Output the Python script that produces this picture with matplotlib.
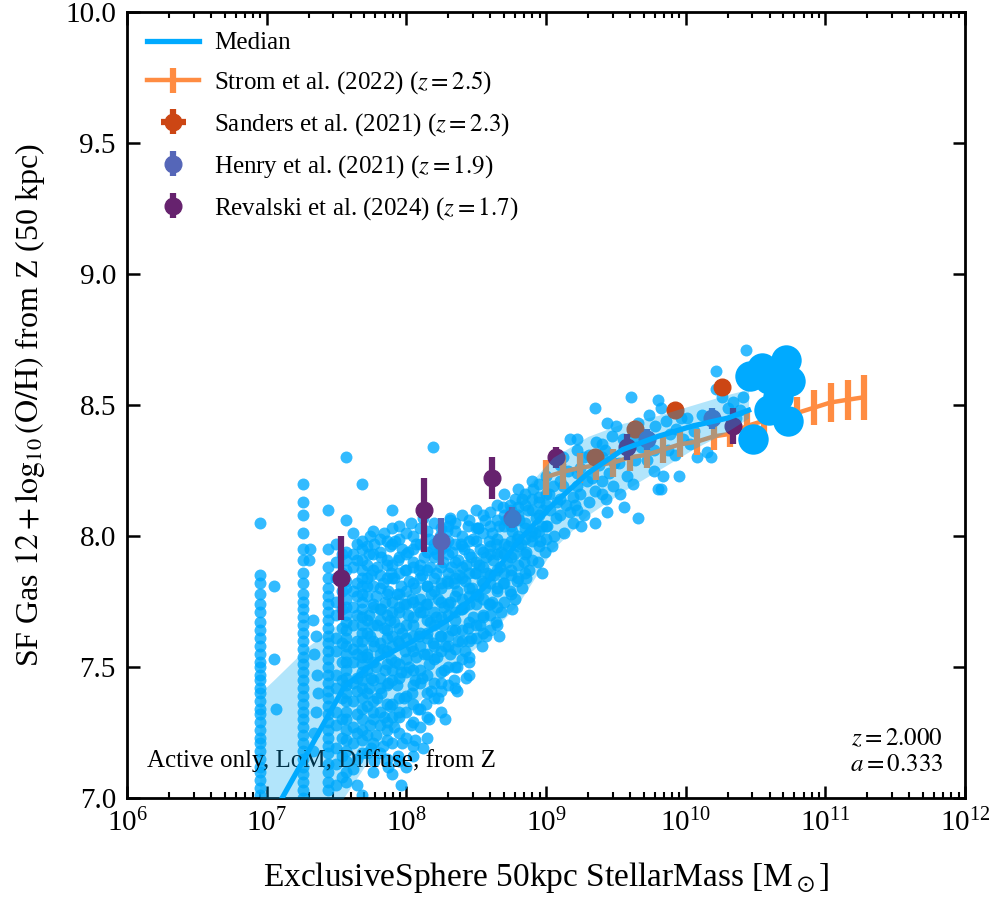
import numpy as np
import matplotlib
matplotlib.use('Agg')
import matplotlib.pyplot as plt
from matplotlib.ticker import LogLocator, NullFormatter, MultipleLocator


# --- simulated galaxies: low-mass columns (log10 M*, then Z values) ---
COLUMN_LOGM = [6.95, 7.26, 7.44, 7.57, 7.68]
COLUMN_Z = [
    [8.05, 7.85, 7.82, 7.78, 7.74, 7.71, 7.67, 7.64, 7.61, 7.58, 7.55, 7.52, 7.50, 7.47, 7.45, 7.42,
     7.40, 7.37, 7.34, 7.32, 7.29, 7.26, 7.23, 7.21, 7.18, 7.15, 7.12, 7.10, 7.07, 7.04, 7.01],
    [8.20, 8.13, 8.08, 8.01, 7.95, 7.91, 7.86, 7.82, 7.78, 7.75, 7.72, 7.69, 7.66, 7.63, 7.60, 7.57,
     7.54, 7.51, 7.48, 7.45, 7.42, 7.39, 7.36, 7.33, 7.30, 7.27, 7.24, 7.21, 7.18, 7.15, 7.12, 7.09,
     7.06, 7.03, 7.00],
    [8.10, 7.95, 7.88, 7.84, 7.80, 7.77, 7.74, 7.71, 7.68, 7.65, 7.62, 7.59, 7.56, 7.53, 7.50, 7.47,
     7.44, 7.41, 7.38, 7.35, 7.32, 7.29, 7.26, 7.23, 7.20, 7.17, 7.13, 7.10, 7.06, 7.03],
    [8.30, 8.06, 7.94, 7.91, 7.87, 7.83, 7.80, 7.76, 7.73, 7.70, 7.67, 7.64, 7.61, 7.58, 7.55, 7.52,
     7.49, 7.46, 7.43, 7.40, 7.37, 7.33, 7.30, 7.26, 7.22, 7.18, 7.14, 7.10, 7.06],
    [8.20, 7.98, 7.95, 7.91, 7.87, 7.84, 7.81, 7.78, 7.75, 7.72, 7.69, 7.66, 7.63, 7.60, 7.57, 7.54,
     7.51, 7.48, 7.45, 7.42, 7.38, 7.34, 7.30, 7.26, 7.22, 7.17, 7.01],
]

# extra strips filling the dense part of the cloud (log10 M*, Z values)
FILL_STRIPS = [
    (7.50, [7.97, 7.90, 7.84, 7.75, 7.70, 7.61, 7.56, 7.47, 7.42, 7.33, 7.28, 7.19, 7.13, 7.05]),
    (7.54, [7.93, 7.86, 7.79, 7.72, 7.65, 7.59, 7.52, 7.45, 7.38, 7.30, 7.23, 7.16, 7.08]),
    (7.62, [8.01, 7.93, 7.88, 7.79, 7.73, 7.66, 7.57, 7.52, 7.44, 7.37, 7.27, 7.21, 7.11]),
    (7.65, [7.97, 7.91, 7.82, 7.77, 7.70, 7.60, 7.55, 7.46, 7.41, 7.32, 7.25, 7.15, 7.05]),
    (7.72, [7.96, 7.89, 7.84, 7.77, 7.68, 7.63, 7.54, 7.49, 7.40, 7.35, 7.24, 7.17]),
    (7.76, [8.02, 7.93, 7.87, 7.81, 7.74, 7.66, 7.60, 7.52, 7.45, 7.37, 7.30, 7.21, 7.10]),
    (7.81, [7.99, 7.94, 7.85, 7.80, 7.72, 7.68, 7.59, 7.55, 7.46, 7.42, 7.33, 7.28, 7.17]),
    (7.86, [7.98, 7.91, 7.84, 7.78, 7.70, 7.64, 7.56, 7.51, 7.43, 7.36, 7.29, 7.22, 7.15]),
    (7.90, [8.03, 7.97, 7.89, 7.84, 7.75, 7.71, 7.62, 7.58, 7.49, 7.45, 7.36, 7.31, 7.21, 7.09]),
    (7.95, [8.04, 7.99, 7.92, 7.86, 7.78, 7.73, 7.65, 7.59, 7.51, 7.46, 7.38, 7.31, 7.25, 7.14]),
    (8.00, [8.01, 7.93, 7.87, 7.79, 7.74, 7.66, 7.61, 7.53, 7.48, 7.39, 7.33, 7.23, 7.12]),
    (8.05, [8.00, 7.95, 7.88, 7.82, 7.75, 7.69, 7.62, 7.56, 7.49, 7.43, 7.36, 7.29, 7.20]),
    (8.10, [8.03, 7.97, 7.89, 7.84, 7.76, 7.71, 7.63, 7.58, 7.49, 7.44, 7.34, 7.27]),
    (8.15, [8.02, 7.94, 7.87, 7.81, 7.74, 7.68, 7.61, 7.55, 7.47, 7.40, 7.31, 7.23]),
    (8.20, [8.05, 7.97, 7.92, 7.84, 7.79, 7.71, 7.66, 7.58, 7.53, 7.44, 7.38]),
    (8.25, [8.03, 7.95, 7.88, 7.82, 7.75, 7.69, 7.62, 7.56, 7.48, 7.41, 7.33]),
    (8.30, [8.04, 7.98, 7.93, 7.86, 7.82, 7.74, 7.70, 7.62, 7.58, 7.50, 7.43]),
    (8.35, [8.05, 7.97, 7.90, 7.84, 7.77, 7.71, 7.64, 7.57, 7.50, 7.42]),
    (8.40, [8.08, 8.00, 7.96, 7.88, 7.84, 7.76, 7.72, 7.64, 7.60, 7.53]),
    (8.45, [8.06, 7.98, 7.93, 7.86, 7.80, 7.74, 7.67, 7.60, 7.54, 7.47]),
    (8.50, [8.10, 8.03, 7.98, 7.90, 7.86, 7.78, 7.74, 7.66, 7.61]),
    (8.55, [8.08, 8.01, 7.94, 7.88, 7.82, 7.76, 7.69, 7.63]),
    (8.60, [8.09, 8.04, 7.96, 7.93, 7.85, 7.82, 7.74, 7.70, 7.64]),
    (8.65, [8.12, 8.06, 7.99, 7.93, 7.87, 7.80, 7.73, 7.66]),
    (8.70, [8.16, 8.08, 8.04, 7.97, 7.93, 7.86, 7.82, 7.75]),
    (8.75, [8.10, 8.04, 7.98, 7.92, 7.85, 7.78]),
    (8.80, [8.18, 8.11, 8.08, 8.00, 7.96, 7.89, 7.84]),
    (8.85, [8.16, 8.12, 8.05, 7.99, 7.93, 7.86]),
    (8.90, [8.21, 8.14, 8.10, 8.02, 7.98, 7.91]),
    (8.95, [8.20, 8.15, 8.08, 8.02, 7.96]),
    (9.00, [8.23, 8.16, 8.12, 8.04, 7.99]),
    (9.10, [8.27, 8.21, 8.14, 8.08]),
    (9.22, [8.33, 8.24, 8.19, 8.10]),
    (9.40, [8.35, 8.30, 8.21, 8.16]),
]

# --- simulated galaxies: scattered part of the cloud (log10 M*, Z) ---
CLOUD = [
    (7.05, 7.81), (7.05, 7.53), (7.07, 7.34), (7.31, 7.95), (7.30, 7.91),
    (7.33, 7.68), (7.35, 7.62), (7.34, 7.55), (7.36, 7.47), (7.37, 7.40), (7.35, 7.33), (7.34, 7.25), (7.33, 7.18),
    (7.90, 8.10), (8.31, 8.06), (8.29, 8.02), (8.51, 8.03),
    (7.74, 8.00), (7.77, 7.97), (7.73, 7.93), (7.79, 7.88), (7.75, 7.85), (7.72, 7.81), (7.78, 7.77), (7.76, 7.73),
    (7.73, 7.70), (7.79, 7.66), (7.74, 7.62), (7.77, 7.58), (7.72, 7.55), (7.78, 7.50), (7.75, 7.46), (7.73, 7.42),
    (7.79, 7.38), (7.76, 7.33), (7.74, 7.28), (7.78, 7.24), (7.75, 7.19), (7.77, 7.14),
    (7.84, 8.01), (7.88, 7.96), (7.82, 7.92), (7.86, 7.89), (7.89, 7.86), (7.83, 7.82), (7.87, 7.79), (7.85, 7.75),
    (7.82, 7.72), (7.88, 7.68), (7.84, 7.65), (7.86, 7.61), (7.83, 7.57), (7.89, 7.53), (7.85, 7.49), (7.87, 7.44),
    (7.82, 7.40), (7.88, 7.35), (7.84, 7.31), (7.86, 7.26), (7.83, 7.20), (7.87, 7.12),
    (7.92, 7.98), (7.97, 7.95), (7.94, 7.91), (7.99, 7.87), (7.91, 7.84), (7.96, 7.81), (7.93, 7.78), (7.98, 7.74),
    (7.95, 7.71), (7.91, 7.67), (7.97, 7.63), (7.94, 7.60), (7.99, 7.56), (7.92, 7.52), (7.96, 7.48), (7.93, 7.43),
    (7.98, 7.38), (7.95, 7.33), (7.91, 7.27), (7.97, 7.21), (7.94, 7.16), (7.96, 7.05),
    (8.03, 8.05), (8.07, 7.97), (8.01, 7.94), (8.05, 7.90), (8.09, 7.87), (8.02, 7.83), (8.06, 7.80), (8.04, 7.76),
    (8.08, 7.73), (8.01, 7.70), (8.05, 7.66), (8.09, 7.62), (8.03, 7.58), (8.07, 7.54), (8.02, 7.50), (8.06, 7.45),
    (8.04, 7.40), (8.08, 7.34), (8.03, 7.28), (8.06, 7.22), (8.05, 7.16),
    (8.12, 8.07), (8.16, 7.99), (8.19, 7.95), (8.13, 7.92), (8.17, 7.88), (8.11, 7.85), (8.15, 7.81), (8.18, 7.78),
    (8.14, 7.74), (8.12, 7.71), (8.17, 7.67), (8.15, 7.63), (8.19, 7.59), (8.13, 7.55), (8.16, 7.51), (8.11, 7.46),
    (8.18, 7.41), (8.14, 7.36), (8.16, 7.30), (8.12, 7.19),
    (8.19, 8.34), (8.24, 8.00), (8.28, 7.96), (8.22, 7.93), (8.26, 7.90), (8.21, 7.86), (8.29, 7.83), (8.25, 7.80),
    (8.23, 7.76), (8.27, 7.73), (8.21, 7.69), (8.26, 7.66), (8.24, 7.62), (8.28, 7.58), (8.22, 7.54), (8.27, 7.49),
    (8.25, 7.44), (8.23, 7.38), (8.28, 7.30),
    (8.31, 8.07), (8.35, 8.02), (8.39, 7.97), (8.33, 7.94), (8.37, 7.91), (8.32, 7.88), (8.38, 7.85), (8.34, 7.82),
    (8.36, 7.79), (8.31, 7.75), (8.39, 7.72), (8.35, 7.68), (8.33, 7.64), (8.37, 7.60), (8.31, 7.55), (8.36, 7.50),
    (8.34, 7.45), (8.36, 7.41),
    (8.44, 8.04), (8.48, 7.99), (8.41, 7.95), (8.46, 7.92), (8.43, 7.89), (8.49, 7.86), (8.42, 7.83), (8.47, 7.80),
    (8.45, 7.77), (8.41, 7.73), (8.48, 7.69), (8.44, 7.65), (8.46, 7.61), (8.42, 7.56), (8.45, 7.52), (8.43, 7.46),
    (8.51, 8.03), (8.56, 8.06), (8.59, 7.98), (8.53, 7.95), (8.57, 7.92), (8.52, 7.89), (8.58, 7.86), (8.54, 7.83),
    (8.56, 7.80), (8.51, 7.77), (8.59, 7.74), (8.55, 7.70), (8.53, 7.66), (8.57, 7.62), (8.54, 7.58),
    (8.69, 8.11), (8.66, 8.04), (8.61, 8.01), (8.64, 7.97), (8.68, 7.94), (8.62, 7.91), (8.67, 7.88), (8.63, 7.85),
    (8.69, 7.82), (8.65, 7.79), (8.61, 7.75), (8.68, 7.71), (8.64, 7.67), (8.66, 7.62),
    (8.78, 8.14), (8.74, 8.12), (8.71, 8.06), (8.76, 8.02), (8.79, 7.99), (8.73, 7.96), (8.77, 7.93), (8.72, 7.90),
    (8.75, 7.87), (8.79, 7.83), (8.74, 7.79), (8.78, 7.76), (8.76, 7.72),
    (8.83, 8.14), (8.87, 8.10), (8.81, 8.06), (8.85, 8.03), (8.89, 8.00), (8.82, 7.97), (8.86, 7.94), (8.84, 7.90),
    (8.88, 7.87), (8.86, 7.84), (8.83, 7.80),
    (8.91, 8.18), (8.95, 8.13), (8.98, 8.10), (8.93, 8.07), (8.97, 8.04), (8.92, 8.01), (8.96, 7.98), (8.99, 7.94),
    (8.94, 7.90), (8.97, 7.86),
    (9.05, 8.19), (9.02, 8.16), (9.08, 8.13), (9.03, 8.10), (9.07, 8.07), (9.01, 8.04), (9.06, 8.00), (9.04, 7.96),
    (9.17, 8.37), (9.12, 8.30), (9.16, 8.25), (9.12, 8.19), (9.19, 8.15), (9.14, 8.12), (9.17, 8.09), (9.19, 8.05),
    (9.13, 8.01),
    (9.22, 8.37), (9.27, 8.30), (9.24, 8.26), (9.29, 8.21), (9.24, 8.16), (9.21, 8.12), (9.27, 8.08), (9.25, 8.04),
    (9.35, 8.49), (9.36, 8.36), (9.31, 8.31), (9.38, 8.27), (9.33, 8.22), (9.31, 8.13), (9.35, 8.17), (9.35, 8.05),
    (9.44, 8.43), (9.47, 8.38), (9.42, 8.33), (9.49, 8.28), (9.45, 8.24), (9.48, 8.19), (9.44, 8.09), (9.43, 8.14),
    (9.50, 8.42), (9.55, 8.37), (9.58, 8.33), (9.52, 8.28), (9.58, 8.23), (9.53, 8.16), (9.56, 8.11),
    (9.61, 8.53), (9.66, 8.43), (9.63, 8.38), (9.68, 8.34), (9.64, 8.29), (9.62, 8.20), (9.66, 8.07),
    (9.74, 8.46), (9.78, 8.42), (9.72, 8.38), (9.77, 8.33), (9.72, 8.29), (9.77, 8.25), (9.80, 8.18),
    (9.80, 8.52), (9.82, 8.49), (9.86, 8.44), (9.89, 8.39), (9.87, 8.33), (9.84, 8.23), (9.82, 8.18),
    (9.97, 8.45), (9.93, 8.41), (9.98, 8.37), (9.92, 8.31), (9.95, 8.23),
    (10.01, 8.45), (10.06, 8.40), (10.03, 8.35), (10.08, 8.30),
    (10.12, 8.46), (10.19, 8.44), (10.15, 8.32), (10.18, 8.30),
    (10.22, 8.63), (10.22, 8.56), (10.26, 8.53), (10.30, 8.49),
    (10.34, 8.51), (10.39, 8.48), (10.36, 8.45),
    (10.43, 8.71), (10.41, 8.53),
]

# --- most massive galaxies (drawn larger) ---
BIG_LOGM = [10.46, 10.55, 10.72, 10.75, 10.60, 10.60, 10.73, 10.48, 10.66]
BIG_Z = [8.61, 8.64, 8.67, 8.59, 8.60, 8.48, 8.44, 8.37, 8.53]

# --- median and 16-84 percentile band ---
MED_LOGM = [7.10, 7.30, 7.55, 7.80, 8.05, 8.30, 8.55, 8.80, 9.05, 9.30, 9.55, 9.80, 10.05, 10.30, 10.45]
MED_Z = [6.99, 7.18, 7.42, 7.53, 7.60, 7.68, 7.80, 7.98, 8.12, 8.24, 8.33, 8.38, 8.42, 8.45, 8.48]
BAND_LOGM = [6.95, 7.05, 7.30, 7.55, 7.80, 8.05, 8.30, 8.55, 8.80, 9.05, 9.30, 9.55, 9.80, 10.05, 10.30, 10.45]
BAND_LO = [6.60, 6.70, 6.85, 7.00, 7.20, 7.35, 7.48, 7.60, 7.74, 7.95, 8.08, 8.17, 8.25, 8.33, 8.40, 8.45]
BAND_HI = [7.40, 7.45, 7.58, 7.68, 7.75, 7.80, 7.86, 7.95, 8.15, 8.30, 8.38, 8.43, 8.46, 8.50, 8.54, 8.56]

# --- observations ---
STROM_LOGM = [9.00, 9.12, 9.24, 9.36, 9.48, 9.60, 9.72, 9.84, 9.96, 10.08,
              10.20, 10.32, 10.44, 10.56, 10.68, 10.80, 10.92, 11.04, 11.16, 11.28]
STROM_Z = [8.225, 8.245, 8.26, 8.27, 8.28, 8.30, 8.31, 8.33, 8.35, 8.36,
           8.38, 8.39, 8.42, 8.44, 8.46, 8.47, 8.49, 8.51, 8.52, 8.53]
STROM_ERR = [0.067, 0.064, 0.057, 0.055, 0.053, 0.05, 0.05, 0.05, 0.05, 0.05,
             0.05, 0.052, 0.055, 0.057, 0.058, 0.06, 0.067, 0.073, 0.076, 0.086]

SANDERS_LOGM = [9.35, 9.64, 9.92, 10.26]
SANDERS_Z = [8.30, 8.41, 8.48, 8.57]
SANDERS_ERR = [0.02, 0.02, 0.02, 0.02]

HENRY_LOGM = [8.25, 8.76, 9.72, 10.19]
HENRY_Z = [7.98, 8.07, 8.37, 8.45]
HENRY_ERR = [0.09, 0.04, 0.04, 0.04]

REVALSKI_LOGM = [7.53, 8.13, 8.61, 9.07, 9.58, 10.34]
REVALSKI_Z = [7.84, 8.10, 8.22, 8.30, 8.34, 8.42]
REVALSKI_ERR_LO = [0.16, 0.16, 0.08, 0.04, 0.05, 0.07]
REVALSKI_ERR_HI = [0.16, 0.12, 0.08, 0.04, 0.05, 0.07]

SIM_COLOR = '#00aaff'
BAND_COLOR = '#03a9f4'

plt.rcParams['font.family'] = 'serif'
plt.rcParams['font.serif'] = ['Liberation Serif', 'DejaVu Serif']
plt.rcParams['mathtext.fontset'] = 'stix'

fig = plt.figure(figsize=(9.96, 9.0), dpi=100)
ax = fig.add_axes([0.1275, 0.1133, 0.8414, 0.8734])

# scatter of galaxies
sim_x = [m for m, zs in zip(COLUMN_LOGM, COLUMN_Z) for _ in zs]
sim_y = [z for zs in COLUMN_Z for z in zs]
sim_x += [m for m, zs in FILL_STRIPS for _ in zs]
sim_y += [z for _, zs in FILL_STRIPS for z in zs]
sim_x += [p[0] for p in CLOUD]
sim_y += [p[1] for p in CLOUD]
ax.scatter(10 ** np.array(sim_x), sim_y, s=74, color=SIM_COLOR, alpha=0.8,
           linewidths=0, zorder=2)
ax.scatter(10 ** np.array(BIG_LOGM), BIG_Z, s=480, color=SIM_COLOR, linewidths=0, zorder=6)

# observations
ax.errorbar(10 ** np.array(STROM_LOGM), STROM_Z, yerr=STROM_ERR, color='#ff8c42',
            lw=3.2, elinewidth=4.5, capsize=0, zorder=2.5,
            label=r'Strom et al. (2022) ($z=2.5$)')
ax.errorbar(10 ** np.array(SANDERS_LOGM), SANDERS_Z, yerr=SANDERS_ERR,
            xerr=10 ** np.array(SANDERS_LOGM) * 0.03, fmt='o', ms=12, color='#cc4614',
            elinewidth=4.5, capsize=0, zorder=2.6, label=r'Sanders et al. (2021) ($z=2.3$)')
ax.errorbar(10 ** np.array(HENRY_LOGM), HENRY_Z, yerr=HENRY_ERR, fmt='o', ms=12,
            color='#5566b8', elinewidth=4.5, capsize=0, zorder=2.7,
            label=r'Henry et al. (2021) ($z=1.9$)')
ax.errorbar(10 ** np.array(REVALSKI_LOGM), REVALSKI_Z, yerr=[REVALSKI_ERR_LO, REVALSKI_ERR_HI],
            fmt='o', ms=12, color='#66226e', elinewidth=4.5, capsize=0, zorder=2.8,
            label=r'Revalski et al. (2024) ($z=1.7$)')

# median and spread
ax.fill_between(10 ** np.array(BAND_LOGM), BAND_LO, BAND_HI, color=BAND_COLOR, alpha=0.3,
                linewidth=0, zorder=4)
ax.plot(10 ** np.array(MED_LOGM), MED_Z, color=SIM_COLOR, lw=3.8, zorder=5, label='Median')

ax.set_xscale('log')
ax.set_xlim(1e6, 1e12)
ax.set_ylim(7.0, 10.0)
ax.xaxis.set_major_locator(LogLocator(base=10, numticks=20))
ax.xaxis.set_minor_locator(LogLocator(base=10, subs=np.arange(2, 10), numticks=20))
ax.xaxis.set_minor_formatter(NullFormatter())
ax.yaxis.set_major_locator(MultipleLocator(0.5))

for side in ax.spines.values():
    side.set_linewidth(2.0)
ax.tick_params(which='both', direction='in', top=True, right=True, labelsize=21)
ax.tick_params(which='major', length=9, width=1.8, pad=8)
ax.tick_params(which='minor', length=4.5, width=1.5)

ax.set_xlabel(r'ExclusiveSphere 50kpc StellarMass [M$_\odot$]', fontsize=24, labelpad=16)
ax.set_ylabel(r'SF Gas $12+\log_{10}(\mathrm{O/H})$ from Z (50 kpc)', fontsize=23, labelpad=13)

ax.text(0.024, 0.033, 'Active only, LoM, Diffuse, from Z', transform=ax.transAxes,
        fontsize=18, ha='left', va='bottom')
ax.text(0.974, 0.028, '$z=2.000$\n$a=0.333$', transform=ax.transAxes,
        fontsize=18, ha='right', va='bottom', multialignment='right')

handles, labels = ax.get_legend_handles_labels()
order = [labels.index('Median')] + [i for i, l in enumerate(labels) if l != 'Median']
ax.legend([handles[i] for i in order], [labels[i] for i in order], loc='upper left',
          frameon=False, fontsize=18, handlelength=2.1, handletextpad=0.6,
          labelspacing=0.6, borderaxespad=0.4)

fig.savefig('out.png', dpi=100)
